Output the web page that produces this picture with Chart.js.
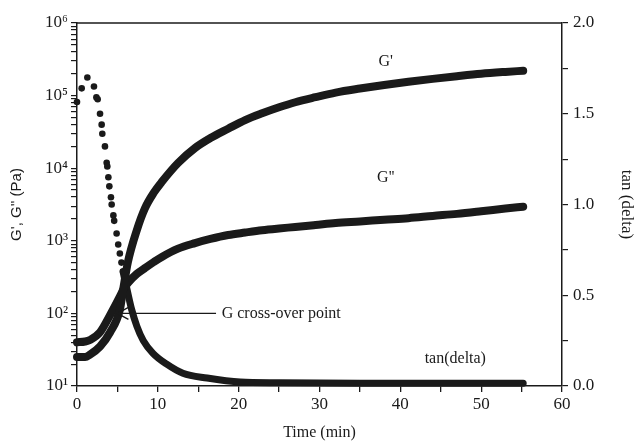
<!DOCTYPE html>
<html>
<head>
<meta charset="utf-8">
<script src="https://cdn.jsdelivr.net/npm/chart.js@4.4.0/dist/chart.umd.min.js"></script>
<style>
  html, body { margin: 0; padding: 0; background: #fff; }
  #wrap { width: 637px; height: 444px; }
</style>
</head>
<body>
<div id="wrap"><canvas id="rheoChart"></canvas></div>
<script>
// Time axis (min) shared by G' and G''
const gTime = [0, 1, 1.6, 2.85, 4.1, 5.3, 5.7, 6.3, 7.4, 8.4, 9.5, 10.5, 12.5, 14.6, 16.5, 18.7,
  20.8, 22.9, 25, 27, 29.5, 32, 35, 38, 41, 44, 47, 50, 53, 55.2];
// Storage modulus G' (Pa)
const gPrime = [25, 25, 27, 35, 55, 112, 210, 510, 1400, 2800, 4600, 6500, 11800, 19000, 26000, 35000,
  46000, 57000, 69000, 81000, 95000, 110000, 125000, 140000, 155000, 170000, 185000, 200000, 212000, 220000];
// Loss modulus G'' (Pa)
const gDouble = [40, 41, 43, 55, 95, 170, 210, 263, 350, 420, 510, 600, 780, 930, 1060, 1200,
  1300, 1400, 1480, 1550, 1650, 1760, 1850, 1950, 2050, 2200, 2350, 2550, 2780, 2950];

// tan(delta) on the right axis
const tanTime = [0, 0.58, 1.28, 2.1, 2.4, 2.56, 2.85, 3.05, 3.13, 3.46, 3.67, 3.75, 3.88, 4.0, 4.2, 4.29,
  4.5, 4.6, 4.9, 5.1, 5.3, 5.5, 5.7, 6.15, 6.77, 7.4, 8.2, 9.4, 11.1, 13.1, 16.1, 20.2,
  25, 30, 35, 40, 45, 50, 55.2];
const tanDelta = [1.565, 1.64, 1.70, 1.65, 1.59, 1.58, 1.50, 1.44, 1.39, 1.32, 1.23, 1.21, 1.15, 1.10, 1.04, 1.00,
  0.94, 0.91, 0.84, 0.78, 0.73, 0.68, 0.63, 0.54, 0.42, 0.33, 0.25, 0.18, 0.12, 0.07, 0.044, 0.022,
  0.018, 0.016, 0.015, 0.015, 0.015, 0.015, 0.015];

const xTicks = [0, 10, 20, 30, 40, 50, 60];
const rightTicks = ['0.0', '0.5', '1.0', '1.5', '2.0'];
const sup = { 1: '\u00B9', 2: '\u00B2', 3: '\u00B3', 4: '\u2074', 5: '\u2075', 6: '\u2076' };

const INK = '#1a1a1a';
const FONT = 'Liberation Serif, Times New Roman, serif';
const SANS = 'Liberation Sans, Arial, sans-serif';
const DOT_LIMIT = 5.7; // tan(delta) is drawn as loose dots up to here

const pts = (xs, ys) => xs.map((x, i) => ({ x: x, y: ys[i] }));

// frame + annotations
const annotate = {
  id: 'annotate',
  afterDatasetsDraw(chart) {
    const { ctx, chartArea: a, scales } = chart;
    const x = scales.x, yl = scales.yG, yr = scales.yTan;
    ctx.save();
    ctx.strokeStyle = INK;
    ctx.lineWidth = 1.5;
    ctx.beginPath();
    ctx.moveTo(a.left, a.top);
    ctx.lineTo(a.right, a.top);
    ctx.stroke();

    // arrow to the cross-over point
    const ay = yl.getPixelForValue(100);
    const x0 = x.getPixelForValue(17.2), x1 = x.getPixelForValue(5.0);
    ctx.lineWidth = 1.3;
    ctx.beginPath();
    ctx.moveTo(x0, ay);
    ctx.lineTo(x1, ay);
    ctx.moveTo(x1 + 11, ay - 6);
    ctx.lineTo(x1, ay);
    ctx.lineTo(x1 + 11, ay + 6);
    ctx.stroke();

    ctx.fillStyle = INK;
    ctx.font = '16px ' + FONT;
    ctx.textBaseline = 'middle';
    ctx.textAlign = 'left';
    ctx.fillText('G cross-over point', x.getPixelForValue(17.9), ay);

    ctx.textAlign = 'center';
    ctx.fillText("G'", x.getPixelForValue(38.2), yl.getPixelForValue(2.9e5));
    ctx.fillText("G''", x.getPixelForValue(38.2), yl.getPixelForValue(7.4e3));
    ctx.fillText('tan(delta)', x.getPixelForValue(46.8), yr.getPixelForValue(0.15));
    ctx.restore();
  }
};

new Chart(document.getElementById('rheoChart').getContext('2d'), {
  type: 'scatter',
  data: {
    datasets: [
      {
        label: "G'",
        data: pts(gTime, gPrime),
        yAxisID: 'yG',
        showLine: true,
        cubicInterpolationMode: 'monotone',
        borderColor: INK,
        borderWidth: 8,
        borderCapStyle: 'round',
        pointRadius: 0,
        clip: false
      },
      {
        label: "G''",
        data: pts(gTime, gDouble),
        yAxisID: 'yG',
        showLine: true,
        cubicInterpolationMode: 'monotone',
        borderColor: INK,
        borderWidth: 8,
        borderCapStyle: 'round',
        pointRadius: 0,
        clip: false
      },
      {
        label: 'tan(delta)',
        data: pts(tanTime, tanDelta),
        yAxisID: 'yTan',
        showLine: true,
        cubicInterpolationMode: 'monotone',
        borderColor: INK,
        borderWidth: 7,
        borderCapStyle: 'round',
        segment: {
          borderColor: c => c.p0.parsed.x < DOT_LIMIT - 0.01 ? 'rgba(0,0,0,0)' : INK
        },
        backgroundColor: INK,
        pointBorderWidth: 0,
        pointRadius: c => (c.raw && c.raw.x <= DOT_LIMIT) ? 3.3 : 0,
        clip: false
      }
    ]
  },
  options: {
    responsive: true,
    maintainAspectRatio: false,
    animation: false,
    layout: { padding: { top: 23, left: 0, right: 0, bottom: 0 } },
    plugins: {
      legend: { display: false },
      tooltip: { enabled: false }
    },
    scales: {
      x: {
        type: 'linear',
        min: 0,
        max: 60,
        afterBuildTicks: s => { s.ticks = []; for (let v = 0; v <= 60; v += 5) s.ticks.push({ value: v }); },
        afterFit: s => { s.height = 58; },
        ticks: {
          autoSkip: false,
          maxRotation: 0,
          padding: 2,
          color: INK,
          font: { family: FONT, size: 17 },
          callback: v => xTicks.includes(v) ? String(v) : ''
        },
        grid: { drawOnChartArea: false, tickLength: 6, color: INK, lineWidth: 1.3 },
        border: { color: INK, width: 1.5 },
        title: {
          display: true,
          text: 'Time (min)',
          color: INK,
          font: { family: FONT, size: 16 },
          padding: { top: 0, bottom: 2 }
        }
      },
      yG: {
        type: 'logarithmic',
        position: 'left',
        min: 10,
        max: 1e6,
        afterBuildTicks: s => {
          s.ticks = [];
          for (let d = 1; d <= 5; d++) for (let m = 1; m <= 9; m++) s.ticks.push({ value: m * Math.pow(10, d) });
          s.ticks.push({ value: 1e6 });
        },
        afterFit: s => { s.width = 77; },
        ticks: {
          autoSkip: false,
          padding: 3,
          color: INK,
          font: { family: FONT, size: 17 },
          callback: v => {
            const l = Math.log10(v);
            return Math.abs(l - Math.round(l)) < 1e-9 ? '10' + sup[Math.round(l)] : '';
          }
        },
        grid: { drawOnChartArea: false, tickLength: 6, color: INK, lineWidth: 1.2 },
        border: { color: INK, width: 1.5 },
        title: {
          display: true,
          text: "G', G'' (Pa)",
          color: INK,
          font: { family: SANS, size: 15 },
          padding: { top: 8, bottom: 0 }
        }
      },
      yTan: {
        type: 'linear',
        position: 'right',
        min: 0,
        max: 2,
        afterBuildTicks: s => { s.ticks = []; for (let v = 0; v <= 2.0001; v += 0.25) s.ticks.push({ value: +v.toFixed(2) }); },
        afterFit: s => { s.width = 75; },
        ticks: {
          autoSkip: false,
          padding: 5,
          color: INK,
          font: { family: FONT, size: 17 },
          callback: v => rightTicks.includes(v.toFixed(1)) && Math.abs(v * 2 - Math.round(v * 2)) < 1e-9 ? v.toFixed(1) : ''
        },
        grid: { drawOnChartArea: false, tickLength: 6, color: INK, lineWidth: 1.2 },
        border: { color: INK, width: 1.5 },
        title: {
          display: true,
          text: 'tan (delta)',
          color: INK,
          font: { family: FONT, size: 17 },
          padding: { top: 0, bottom: 7 }
        }
      }
    }
  },
  plugins: [annotate]
});
</script>
</body>
</html>
